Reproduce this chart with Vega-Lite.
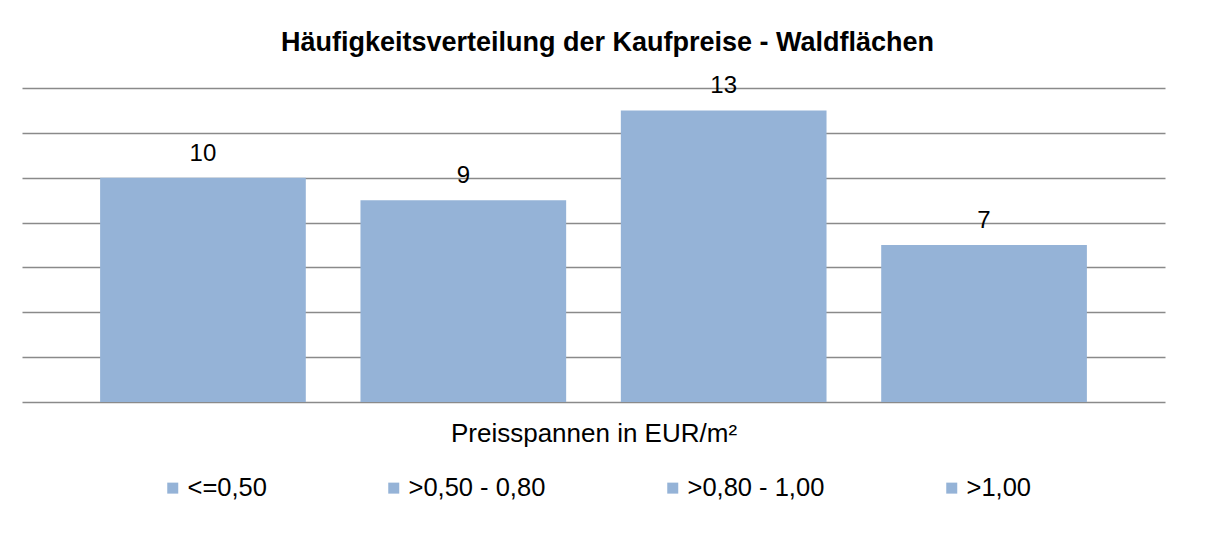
{
  "$schema": "https://vega.github.io/schema/vega-lite/v6.json",
  "width": 1143,
  "height": 314,
  "autosize": "none",
  "padding": {"left": 22, "top": 88, "right": 41, "bottom": 132},
  "background": "white",
  "config": {
    "view": {"stroke": null},
    "font": "Liberation Sans",
    "text": {"font": "Liberation Sans"}
  },
  "title": {
    "text": "Häufigkeitsverteilung der Kaufpreise - Waldflächen",
    "font": "Liberation Sans",
    "fontSize": 27,
    "fontWeight": "bold",
    "color": "#000000",
    "anchor": "middle",
    "frame": "group",
    "dx": 14,
    "offset": 17
  },
  "data": {
    "values": [
      {"Preisspanne": "<=0,50", "Anzahl": 10},
      {"Preisspanne": ">0,50 - 0,80", "Anzahl": 9},
      {"Preisspanne": ">0,80 - 1,00", "Anzahl": 13},
      {"Preisspanne": ">1,00", "Anzahl": 7}
    ]
  },
  "encoding": {
    "x": {
      "field": "Preisspanne",
      "type": "nominal",
      "sort": null,
      "scale": {"paddingInner": 0.21, "paddingOuter": 0.3},
      "axis": {
        "title": "Preisspannen in EUR/m²",
        "titleFont": "Liberation Sans",
        "titleFontSize": 26,
        "titleFontWeight": "normal",
        "titleColor": "#000000",
        "titlePadding": 18,
        "labels": false,
        "ticks": false,
        "domain": false
      }
    },
    "y": {
      "field": "Anzahl",
      "type": "quantitative",
      "scale": {"domain": [0, 14], "nice": false},
      "axis": {
        "title": null,
        "labels": false,
        "ticks": false,
        "domain": false,
        "values": [0, 2, 4, 6, 8, 10, 12, 14],
        "grid": true,
        "gridColor": "#8a8a8a",
        "gridWidth": 1.6
      }
    }
  },
  "layer": [
    {
      "mark": {"type": "bar"},
      "encoding": {
        "color": {
          "field": "Preisspanne",
          "type": "nominal",
          "sort": null,
          "scale": {"range": ["#95b3d7", "#95b3d7", "#95b3d7", "#95b3d7"]},
          "legend": {
            "orient": "none",
            "direction": "horizontal",
            "legendX": 138,
            "legendY": 387,
            "title": null,
            "symbolType": "square",
            "symbolSize": 121,
            "symbolStrokeWidth": 0,
            "labelFont": "Liberation Sans",
            "labelFontSize": 25.5,
            "labelColor": "#000000",
            "labelOffset": 2,
            "columnPadding": 114
          }
        }
      }
    },
    {
      "mark": {"type": "text", "baseline": "alphabetic", "dy": -17, "fontSize": 24, "color": "#000000"},
      "encoding": {
        "text": {"field": "Anzahl", "type": "quantitative"}
      }
    }
  ]
}
